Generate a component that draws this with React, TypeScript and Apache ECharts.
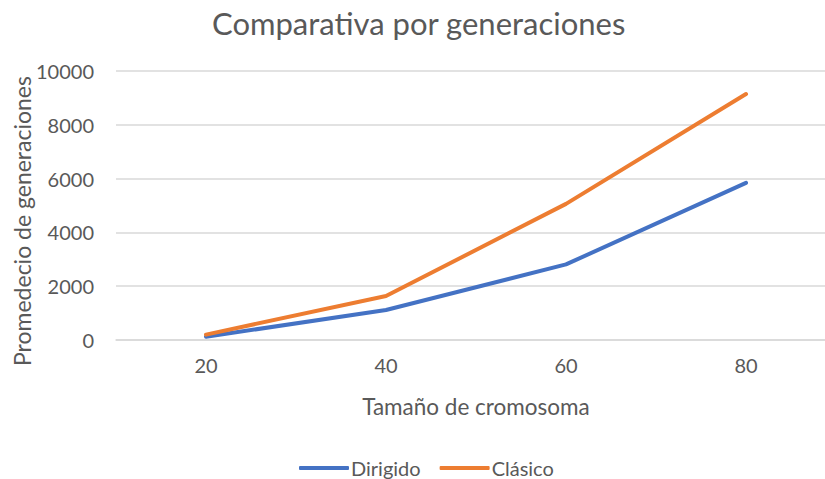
import React, { useEffect, useRef } from "react";
import * as echarts from "echarts";

const categories = ["20", "40", "60", "80"];
const dirigido = [120, 1115, 2810, 5840];
const clasico = [200, 1635, 5060, 9145];
const yTicks = { min: 0, max: 10000, interval: 2000 };

const FONT = "Lato, 'Open Sans', sans-serif";
const GREY = "#595959";

export default function App() {
  const ref = useRef<HTMLDivElement>(null);
  useEffect(() => {
    if (!ref.current) return;
    const chart = echarts.init(ref.current, undefined, { renderer: "svg" });
    chart.setOption({
      animation: false,
      backgroundColor: "#ffffff",
      title: {
        text: "Comparativa por generaciones",
        left: 207,
        top: 2,
        textStyle: { fontFamily: FONT, fontSize: 31, fontWeight: "normal", color: GREY },
      },
      grid: {
        left: 116,
        top: 71,
        width: 720,
        height: 269,
        containLabel: false,
        outerBoundsMode: "none",
      },
      legend: {
        top: 453,
        left: 294,
        itemWidth: 50,
        itemHeight: 4,
        itemGap: 19,
        icon: "roundRect",
        textStyle: { fontFamily: FONT, fontSize: 20, color: GREY, padding: [0, 0, 0, -3] },
        data: ["Dirigido", "Clásico"],
      },
      xAxis: {
        type: "category",
        data: categories,
        boundaryGap: true,
        name: "Tamaño de cromosoma",
        nameLocation: "middle",
        nameGap: 55,
        nameTextStyle: { fontFamily: FONT, fontSize: 22.5, color: GREY },
        axisLine: { show: true, lineStyle: { color: "#d9d9d9", width: 1.5 } },
        axisTick: { show: false },
        axisLabel: { fontFamily: FONT, fontSize: 20, color: GREY, margin: 15 },
      },
      yAxis: {
        type: "value",
        min: yTicks.min,
        max: yTicks.max,
        interval: yTicks.interval,
        axisLine: { show: false },
        axisTick: { show: false },
        splitLine: { lineStyle: { color: "#d9d9d9", width: 1.5 } },
        axisLabel: {
          fontFamily: FONT,
          fontSize: 20,
          color: GREY,
          margin: 22,
          formatter: (v: number) => String(v),
        },
      },
      graphic: [
        {
          type: "text",
          x: 22,
          y: 221,
          rotation: Math.PI / 2,
          style: {
            text: "Promedecio de generaciones",
            fontFamily: FONT,
            fontSize: 23,
            fill: GREY,
            textAlign: "center",
            textVerticalAlign: "middle",
          },
        },
      ],
      series: [
        {
          name: "Dirigido",
          type: "line",
          data: dirigido,
          symbol: "none",
          lineStyle: { color: "#4472C4", width: 4, cap: "round", join: "round" },
          itemStyle: { color: "#4472C4" },
        },
        {
          name: "Clásico",
          type: "line",
          data: clasico,
          symbol: "none",
          lineStyle: { color: "#ED7D31", width: 4, cap: "round", join: "round" },
          itemStyle: { color: "#ED7D31" },
        },
      ],
    });
    return () => chart.dispose();
  }, []);
  return (
    <div
      ref={ref}
      style={{ position: "fixed", left: 0, top: 0, width: 825, height: 479, background: "#fff" }}
    />
  );
}
